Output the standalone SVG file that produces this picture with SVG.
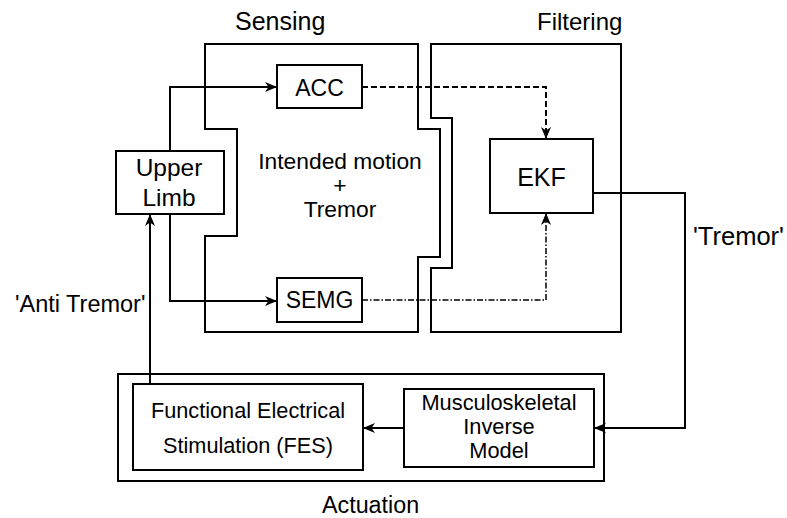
<svg xmlns="http://www.w3.org/2000/svg" width="787" height="518" viewBox="0 0 787 518">
<style>
text{font-family:"Liberation Sans",Arial,sans-serif;font-size:22.5px;fill:#000}
.c{text-anchor:middle}
.box{fill:#fff;stroke:#000;stroke-width:2}
.outline{fill:none;stroke:#000;stroke-width:2}
.ln{fill:none;stroke:#000;stroke-width:2}
.dash{fill:none;stroke:#000;stroke-width:2;stroke-dasharray:6,3}
.dd{fill:none;stroke:#000;stroke-width:1.5;stroke-dasharray:6,2,1.5,2}
</style>
<defs>
<marker id="ah" viewBox="0 0 12 10" refX="12" refY="5" markerWidth="12" markerHeight="10" markerUnits="userSpaceOnUse" orient="auto">
<path d="M0,0 L12,5 L0,10 L3.5,5 Z" fill="#000"/>
</marker>
</defs>
<rect width="787" height="518" fill="#fff"/>
<g id="sensing">
<path class="outline" d="M205,44 H418 V129 H440 V257 H418 V332 H205 V236 H237 V129 H205 Z"/>
<text x="235" y="30" style="font-size:25px">Sensing</text>
<text class="c" x="340" y="169" style="font-size:22.8px"><tspan x="340" y="169">Intended motion</tspan><tspan x="340" y="193">+</tspan><tspan x="340" y="217">Tremor</tspan></text>
</g>
<g id="filtering">
<path class="outline" d="M431,44 H621 V332 H431 V268 H452 V118 H431 Z"/>
<text x="537" y="30" style="font-size:24px">Filtering</text>
</g>
<g id="actuation">
<rect class="outline" x="118" y="374" width="486" height="107"/>
<text x="322" y="513" style="font-size:23.3px">Actuation</text>
</g>
<g id="connectors">
<path class="ln" d="M170,151 V87 H277" marker-end="url(#ah)"/>
<path class="ln" d="M170,214 V301 H277" marker-end="url(#ah)"/>
<path class="dash" d="M362,87 H546 V139" marker-end="url(#ah)"/>
<path class="dd" d="M362,300 H546 V213" marker-end="url(#ah)"/>
<path class="ln" d="M593,193 H685 V428 H594" marker-end="url(#ah)"/>
<path class="ln" d="M404,428 H363" marker-end="url(#ah)"/>
<path class="ln" d="M150,384 V214" marker-end="url(#ah)"/>
<text x="15" y="312" style="font-size:23.5px">'Anti Tremor'</text>
<text x="693" y="245" style="font-size:25.5px">'Tremor'</text>
</g>
<g id="upper-limb">
<rect class="box" x="116" y="151" width="108" height="63"/>
<text class="c" x="169" y="176" style="font-size:24.5px">Upper</text>
<text class="c" x="169" y="206" style="font-size:24.5px">Limb</text>
</g>
<g id="acc">
<rect class="box" x="277" y="65" width="85" height="43"/>
<text class="c" x="319.5" y="96" style="font-size:23px">ACC</text>
</g>
<g id="semg">
<rect class="box" x="277" y="278" width="85" height="44"/>
<text class="c" x="319.5" y="308" style="font-size:23px">SEMG</text>
</g>
<g id="ekf">
<rect class="box" x="490" y="139" width="103" height="74"/>
<text class="c" x="541.5" y="186" style="font-size:25px">EKF</text>
</g>
<g id="fes">
<rect class="box" x="133" y="384" width="230" height="86"/>
<text class="c" x="248" y="418" style="font-size:21.7px">Functional Electrical</text>
<text class="c" x="248" y="453" style="font-size:21.7px">Stimulation (FES)</text>
</g>
<g id="musculoskeletal">
<rect class="box" x="404" y="389" width="190" height="78"/>
<text class="c" x="499" y="410" style="font-size:21.8px"><tspan x="499" y="410">Musculoskeletal</tspan><tspan x="499" y="434">Inverse</tspan><tspan x="499" y="458">Model</tspan></text>
</g>
</svg>
